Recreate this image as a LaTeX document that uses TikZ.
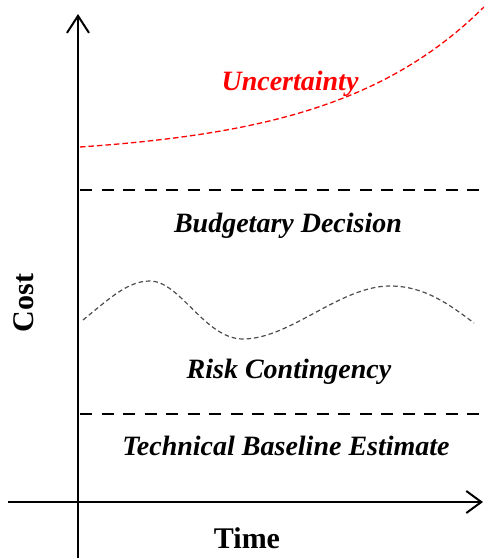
\documentclass[tikz,border=0pt]{standalone}
\usepackage{fontspec}
\setmainfont{Liberation Serif}
\usetikzlibrary{arrows.meta}
\begin{document}
\begin{tikzpicture}[x=1pt,y=-1pt,
  axis/.style={line width=2pt},
  level/.style={line width=1.8pt, dash pattern=on 12pt off 9.5pt},
  unc/.style={red, line width=1.3pt, dash pattern=on 5.5pt off 3pt},
  wave/.style={black!70, line width=1.2pt, dash pattern=on 4.5pt off 3pt},
  lab/.style={font=\fontsize{28}{30}\selectfont\bfseries\itshape, anchor=base, inner sep=0pt},
  axlab/.style={font=\fontsize{30}{34}\selectfont\bfseries, anchor=base, inner sep=0pt}]
\useasboundingbox (0,0) rectangle (484,558);
\coordinate (ybot) at (78,558);
\coordinate (ytop) at (78,14);
\coordinate (xl) at (8,502);
\coordinate (xr) at (483,502);
\draw[axis, -{Straight Barb[length=17pt,width=22pt,line width=2pt]}] (ybot) -- (ytop);
\draw[axis, -{Straight Barb[length=15pt,width=22pt,line width=2pt]}] (xl) -- (xr);
\coordinate (bd1) at (80,190);
\coordinate (bd2) at (484,190);
\coordinate (tb1) at (80,414);
\coordinate (tb2) at (484,414);
\draw[level] (bd1) -- (bd2);
\draw[level] (tb1) -- (tb2);
\draw[unc] plot[domain=80:484, samples=80] (\x, {147 - 10.43*(exp(0.0066*(\x-80))-1)});
\coordinate (w0) at (83,320);
\coordinate (w1) at (150,281);
\coordinate (w2) at (243,339);
\coordinate (w3) at (390,286);
\coordinate (w4) at (474,323);
\draw[wave] (w0) .. controls (110,298) and (128,281) .. (w1)
  .. controls (180,281) and (205,339) .. (w2)
  .. controls (290,339) and (340,286) .. (w3)
  .. controls (425,286) and (450,305) .. (w4);
\node[lab, red] (unc) at (290,90) {Uncertainty};
\node[lab] (bud) at (288,232) {Budgetary Decision};
\node[lab] (risk) at (289,378) {Risk Contingency};
\node[lab] (tbe) at (286,455) {Technical Baseline Estimate};
\node[axlab] (time) at (247,548) {Time};
\node[axlab, rotate=90] (cost) at (33,303) {Cost};
\end{tikzpicture}
\end{document}
